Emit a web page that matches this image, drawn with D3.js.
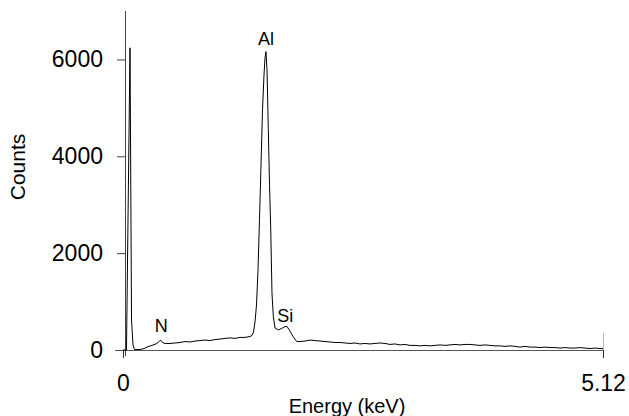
<!DOCTYPE html>
<html>
<head>
<meta charset="utf-8">
<script src="https://cdn.jsdelivr.net/npm/d3@7"></script>
<style>
  body { margin: 0; background: #fff; }
  #chart { width: 629px; height: 416px; }
  text { font-family: "Liberation Sans", Arial, sans-serif; fill: #000; }
</style>
</head>
<body>
<div id="chart"></div>
<script>
// spectrum (energy in keV, counts)
const energy = [0, 0.037, 0.075, 0.091, 0.107, 0.123, 0.181, 0.224, 0.267, 0.309, 0.352, 0.379, 0.402, 0.421, 0.448,
    0.501, 0.555, 0.608, 0.661, 0.715, 0.768, 0.821, 0.875, 0.928, 0.981, 1.035, 1.088, 1.141, 1.195, 1.248, 1.301,
    1.355, 1.376, 1.392, 1.408, 1.424, 1.44, 1.456, 1.472, 1.488, 1.504, 1.515, 1.525, 1.536, 1.55, 1.563, 1.576,
    1.589, 1.603, 1.621, 1.657, 1.693, 1.728, 1.749, 1.774, 1.792, 1.817, 1.853, 1.888, 1.941, 1.995, 2.048, 2.101,
    2.155, 2.208, 2.261, 2.315, 2.368, 2.421, 2.475, 2.528, 2.581, 2.635, 2.688, 2.741, 2.795, 2.848, 2.901, 2.955,
    3.008, 3.061, 3.115, 3.168, 3.221, 3.275, 3.328, 3.381, 3.435, 3.488, 3.541, 3.595, 3.648, 3.701, 3.755, 3.808,
    3.861, 3.915, 3.968, 4.021, 4.075, 4.128, 4.181, 4.235, 4.288, 4.341, 4.395, 4.448, 4.501, 4.555, 4.608, 4.661,
    4.715, 4.768, 4.821, 4.875, 4.928, 4.981, 5.035, 5.088, 5.12]
const counts = [0, 0, 6240, 620, 100, 10, 10, 30, 70, 95, 125, 165, 205, 155, 135,
    135, 145, 155, 175, 165, 185, 195, 205, 195, 215, 225, 240, 250, 240, 260, 260,
    280, 300, 370, 580, 930, 1650, 2690, 3820, 4960, 5680, 6030, 6160, 5790, 4550, 3410, 2480,
    1180, 700, 455, 415, 445, 485, 485, 415, 350, 270, 175, 175, 185, 205, 195, 185,
    175, 165, 155, 155, 145, 135, 145, 125, 135, 125, 135, 145, 135, 115, 125, 105,
    115, 95, 95, 85, 95, 85, 95, 105, 95, 105, 115, 105, 115, 115, 105, 95,
    105, 95, 85, 85, 75, 85, 75, 60, 75, 60, 60, 50, 60, 50, 50, 40,
    50, 40, 40, 50, 40, 30, 40, 30, 30]

// peak labels
const peakNames = ['N', 'Al', 'Si']
const peakEnergy = [0.407, 1.525, 1.73]
const peakCounts = [372, 6300, 580]

const yTicks = [0, 2000, 4000, 6000]
const xTicks = [0, 5.12]

const margin = { top: 11, right: 26, bottom: 66, left: 123 },
    width = 629 - margin.left - margin.right,
    height = 416 - margin.top - margin.bottom

const svg = d3.select('#chart')
    .append('svg')
    .attr('width', 629)
    .attr('height', 416)
    .append('g')
    .attr('transform', 'translate(' + margin.left + ',' + margin.top + ')')

const x = d3.scaleLinear().domain([0, 5.12]).range([0, width])
const y = d3.scaleLinear().domain([0, 7000]).range([height, 0])

// X axis
const xAxis = svg.append('g')
    .attr('transform', 'translate(0,' + height + ')')
    .call(d3.axisBottom(x).tickValues(xTicks).tickSize(8).tickPadding(17)
        .tickFormat(d => d === 0 ? '0' : d3.format('.2f')(d)))
xAxis.select('.domain').attr('d', 'M-8,0.5H' + (width + 0.5)).attr('stroke', '#555')
xAxis.selectAll('.tick line').attr('stroke', '#333')
xAxis.selectAll('.tick text').attr('font-size', 23).attr('fill', '#000')

// faint end marker above the axis at 5.12
svg.append('line')
    .attr('x1', x(5.12) + 0.5).attr('x2', x(5.12) + 0.5)
    .attr('y1', height - 17).attr('y2', height)
    .attr('stroke', '#bbb')

// Y axis
const yAxis = svg.append('g')
    .attr('transform', 'translate(2,0)')
    .call(d3.axisLeft(y).tickValues(yTicks).tickSize(8).tickPadding(14).tickFormat(d3.format('d')))
yAxis.select('.domain').attr('d', 'M0.5,' + (height + 6) + 'V0').attr('stroke', '#444')
yAxis.selectAll('.tick line').attr('stroke', '#444')
yAxis.selectAll('.tick text').attr('font-size', 23).attr('fill', '#000')

// axis titles
svg.append('text')
    .attr('x', 224).attr('y', height + 63)
    .attr('text-anchor', 'middle')
    .attr('font-size', 20)
    .text('Energy (keV)')

svg.append('text')
    .attr('transform', 'translate(' + (-98) + ',' + 156 + ') rotate(-90)')
    .attr('text-anchor', 'middle')
    .attr('font-size', 21)
    .text('Counts')

// spectrum line
const data = energy.map((e, i) => ({ e: e, c: counts[i] }))
svg.append('path')
    .datum(data)
    .attr('fill', 'none')
    .attr('stroke', '#000')
    .attr('stroke-width', 1)
    .attr('d', d3.line()
        .x(d => x(d.e))
        .y(d => y(d.c)))

// peak labels
svg.selectAll('.peak')
    .data(peakNames)
    .enter()
    .append('text')
    .attr('class', 'peak')
    .attr('x', (d, i) => x(peakEnergy[i]))
    .attr('y', (d, i) => y(peakCounts[i]))
    .attr('text-anchor', 'middle')
    .attr('font-size', 18)
    .text(d => d)
</script>
</body>
</html>
